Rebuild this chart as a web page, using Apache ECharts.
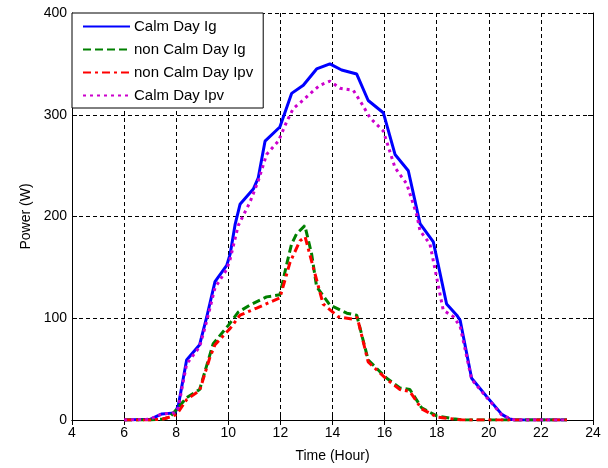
<!DOCTYPE html>
<html>
<head>
<meta charset="utf-8">
<title>Power</title>
<script src="https://cdn.jsdelivr.net/npm/echarts@6/dist/echarts.min.js"></script>
<style>
  *{margin:0;padding:0;}
  body{background:#fff;}
  #main{width:608px;height:468px;}
</style>
</head>
<body>
<div id="main"></div>
<script>
// data (hour, watts)
var calmIgHours = [6, 7, 7.45, 7.95, 8.08, 8.4, 8.9, 9.17, 9.49, 9.94, 10.07, 10.26, 10.45, 10.96, 11.15, 11.41, 11.98, 12.43, 12.88, 13.39, 13.9, 14.35, 14.93, 15.37, 15.95, 16.4, 16.91, 17.36, 17.87, 18.38, 18.77, 18.9, 19.34, 19.92, 20.5, 20.8, 21, 23];
var calmIg      = [0, 0.7, 6, 7, 14, 59, 74, 101, 136, 152, 163, 192, 212, 227, 238, 274, 288, 321, 329, 345, 350, 344, 340, 314, 302, 261, 245, 193, 175, 114, 103, 98, 41, 23, 5.5, 1, 0, 0];

var nonCalmIgHours = [6, 7, 7.5, 7.76, 8.02, 8.4, 8.9, 9.42, 10.0, 10.38, 10.83, 11.47, 11.98, 12.24, 12.43, 12.62, 12.94, 13.2, 13.39, 13.9, 14.55, 14.93, 15.37, 16.08, 16.59, 16.97, 17.42, 18.0, 18.64, 19, 23];
var nonCalmIg      = [0, 0, 1, 3, 10.5, 22, 30, 75, 93, 106, 113, 121, 123, 153, 173, 183, 191, 163, 131, 113, 105, 103, 59, 41, 31.5, 30, 12, 4, 1.3, 0, 0];

var nonCalmIpvHours = [6, 7, 7.5, 7.76, 8.02, 8.4, 8.9, 9.3, 9.49, 10.07, 10.45, 11.09, 11.98, 12.37, 12.75, 12.95, 13.26, 13.64, 14.22, 14.8, 14.95, 15.37, 16.08, 16.59, 16.97, 17.42, 18.0, 18.64, 19, 23];
var nonCalmIpv      = [0, 0, 1, 3, 5.5, 20, 29, 62, 74, 90, 103, 110, 120, 155, 176, 180, 150, 114, 101.5, 99, 101, 57, 40, 30, 28, 11, 3, 1, 0, 0];

var calmIpvHours = [6, 7, 7.45, 7.95, 8.08, 8.4, 8.9, 9.17, 9.49, 9.94, 10.07, 10.38, 10.83, 11.15, 11.47, 11.92, 12.24, 12.49, 12.9, 13.33, 13.52, 13.9, 14.29, 14.8, 15.12, 15.44, 15.95, 16.4, 16.85, 17.23, 17.36, 17.74, 18.25, 18.64, 18.9, 19.34, 19.92, 20.5, 20.8, 21, 23];
var calmIpv      = [0, 0.7, 6, 7, 12, 55, 72, 97, 130, 148, 158, 191, 214, 235, 261, 274, 293, 306, 315, 325, 329, 333, 326, 324, 311, 297, 284, 248, 232, 202, 186, 173, 108, 101.5, 92, 40, 22, 5, 1.5, 0, 0];

var xTicks = {min: 4, max: 24, step: 2};
var yTicks = {min: 0, max: 400, step: 100};

function pairs(h, v) {
    var out = [];
    for (var i = 0; i < h.length; i++) out.push([h[i], v[i]]);
    return out;
}

var font = 'Liberation Sans, Arial, sans-serif';
var gridLine = {show: true, lineStyle: {color: '#000', type: [4, 3], width: 1}};

var myChart = echarts.init(document.getElementById('main'));
var option = {
    animation: false,
    backgroundColor: '#fff',
    grid: {left: 72, right: 15, top: 13, bottom: 44, containLabel: false},
    legend: {
        orient: 'vertical',
        left: 72, top: 13,
        backgroundColor: '#fff',
        borderColor: '#000', borderWidth: 1, borderRadius: 0,
        padding: [6, 10, 5, 10],
        itemWidth: 47, itemHeight: 15, itemGap: 8,
        itemStyle: {opacity: 0},
        textStyle: {fontFamily: font, fontSize: 15, color: '#000', padding: [0, 0, 0, -1]},
        data: ['Calm Day Ig', 'non Calm Day Ig', 'non Calm Day Ipv', 'Calm Day Ipv']
    },
    xAxis: [{
        type: 'value', min: xTicks.min, max: xTicks.max, interval: xTicks.step,
        name: 'Time (Hour)', nameLocation: 'middle', nameGap: 29,
        nameTextStyle: {fontFamily: font, fontSize: 14, color: '#000'},
        axisLine: {lineStyle: {color: '#000', width: 1}},
        axisTick: {inside: true, length: 5, lineStyle: {color: '#000'}},
        axisLabel: {fontFamily: font, fontSize: 14, color: '#000', margin: 6},
        splitLine: gridLine
    }, {
        type: 'value', position: 'top', min: xTicks.min, max: xTicks.max, interval: xTicks.step,
        axisLine: {show: true, lineStyle: {color: '#000', width: 1}},
        axisTick: {show: true, inside: true, length: 5, lineStyle: {color: '#000'}},
        axisLabel: {show: false}, splitLine: {show: false}
    }],
    yAxis: [{
        type: 'value', min: yTicks.min, max: yTicks.max, interval: yTicks.step,
        name: 'Power (W)', nameLocation: 'middle', nameGap: 36,
        nameTextStyle: {fontFamily: font, fontSize: 14, color: '#000'},
        axisLine: {show: true, lineStyle: {color: '#000', width: 1}},
        axisTick: {show: true, inside: true, length: 5, lineStyle: {color: '#000'}},
        axisLabel: {fontFamily: font, fontSize: 14, color: '#000', margin: 5},
        splitLine: gridLine
    }, {
        type: 'value', position: 'right', min: yTicks.min, max: yTicks.max, interval: yTicks.step,
        axisLine: {show: true, lineStyle: {color: '#000', width: 1}},
        axisTick: {show: true, inside: true, length: 5, lineStyle: {color: '#000'}},
        axisLabel: {show: false}, splitLine: {show: false}
    }],
    series: [
        {
            name: 'Calm Day Ig', type: 'line', symbol: 'none',
            lineStyle: {color: '#0000ff', width: 3},
            itemStyle: {color: '#0000ff'},
            data: pairs(calmIgHours, calmIg)
        },
        {
            name: 'non Calm Day Ig', type: 'line', symbol: 'none',
            lineStyle: {color: '#008000', width: 3, type: [8, 4]},
            itemStyle: {color: '#008000'},
            data: pairs(nonCalmIgHours, nonCalmIg)
        },
        {
            name: 'non Calm Day Ipv', type: 'line', symbol: 'none',
            lineStyle: {color: '#ff0000', width: 3, type: [8, 4, 3, 4]},
            itemStyle: {color: '#ff0000'},
            data: pairs(nonCalmIpvHours, nonCalmIpv)
        },
        {
            name: 'Calm Day Ipv', type: 'line', symbol: 'none',
            lineStyle: {color: '#cc00cc', width: 3, type: [3, 4]},
            itemStyle: {color: '#cc00cc'},
            data: pairs(calmIpvHours, calmIpv)
        }
    ]
};
myChart.setOption(option);
</script>
</body>
</html>
